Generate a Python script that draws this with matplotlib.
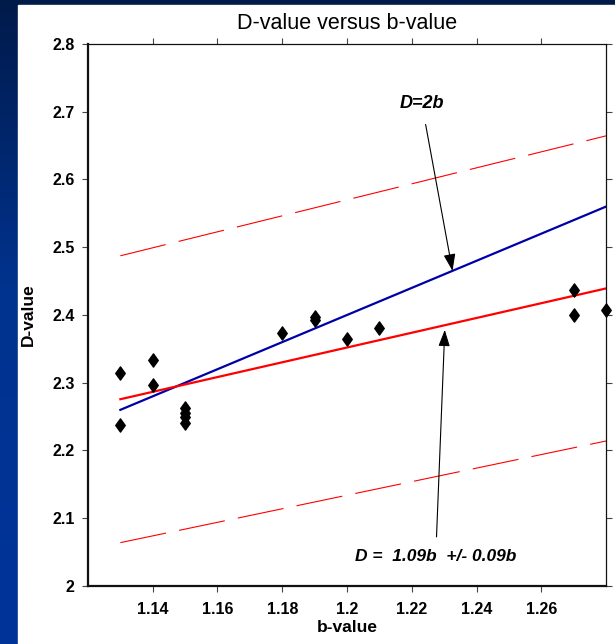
# D-value against b-value with the D=2b line and the fitted band
import matplotlib.pyplot as plt
import numpy as np
from matplotlib.colors import LinearSegmentedColormap
from matplotlib.patches import Rectangle
from matplotlib.path import Path

b_values = [1.13, 1.13, 1.14, 1.14, 1.15, 1.15, 1.15, 1.15,
            1.18, 1.19, 1.19, 1.20, 1.21, 1.27, 1.27, 1.28]
d_values = [2.315, 2.238, 2.334, 2.297, 2.262, 2.256, 2.250, 2.241,
            2.374, 2.397, 2.392, 2.364, 2.381, 2.437, 2.400, 2.408]

# fitted relation D = 1.09b +/- 0.09b
fit_slope = 1.09
fit_intercept = 1.044
slope_err = 0.09
intercept_err = 0.11
line_b = [1.13, 1.28]

x_ticks = [1.14, 1.16, 1.18, 1.20, 1.22, 1.24, 1.26]
x_ticklabels = ["1.14", "1.16", "1.18", "1.2", "1.22", "1.24", "1.26"]
y_ticks = [2.0, 2.1, 2.2, 2.3, 2.4, 2.5, 2.6, 2.7, 2.8]
y_ticklabels = ["2", "2.1", "2.2", "2.3", "2.4", "2.5", "2.6", "2.7", "2.8"]

plt.rcParams["font.family"] = ["Liberation Sans", "DejaVu Sans"]

fig = plt.figure(figsize=(6.15, 6.44), dpi=100)

# slide-style background: blue gradient with a white panel on top
bg = fig.add_axes([0, 0, 1, 1], zorder=-10)
bg.set_axis_off()
cmap = LinearSegmentedColormap.from_list(
    "slide", [(0, "#001a4a"), (0.45, "#00338f"), (1, "#003399")])
grad = np.linspace(0, 1, 256).reshape(-1, 1)
bg.imshow(grad, aspect="auto", cmap=cmap, extent=[0, 1, 0, 1], origin="upper")
bg.add_patch(Rectangle((18 / 615, 0), 1, 1 - 5 / 644, color="white",
                       transform=bg.transAxes))
bg.set_xlim(0, 1)
bg.set_ylim(0, 1)

ax = fig.add_axes([88 / 615, 1 - 586 / 644, 518 / 615, 542 / 644])

b_line = np.array(line_b)
ax.plot(b_line, 2 * b_line, color="#0000a8", lw=1.6)
ax.plot(b_line, fit_slope * b_line + fit_intercept, color="#ff0000", lw=1.6)
ax.plot(b_line, (fit_slope + slope_err) * b_line + fit_intercept + intercept_err,
        color="#ff0000", lw=0.8, dashes=(42, 12))
ax.plot(b_line, (fit_slope - slope_err) * b_line + fit_intercept - intercept_err,
        color="#ff0000", lw=0.8, dashes=(42, 12))

# squat diamond marker, a bit wider than matplotlib's thin diamond
diamond = Path([(0, 1), (0.72, 0), (0, -1), (-0.72, 0), (0, 1)],
               [Path.MOVETO, Path.LINETO, Path.LINETO, Path.LINETO, Path.CLOSEPOLY])
ax.plot(b_values, d_values, linestyle="none", marker=diamond, color="black",
        markersize=9.5, clip_on=False, zorder=5)

arrow = dict(arrowstyle="-|>,head_length=0.8,head_width=0.28",
             color="black", lw=0.8, shrinkA=7, shrinkB=0)
ax.annotate("D=2b", xy=(1.2326, 2.465), xytext=(1.2231, 2.712),
            ha="center", va="center", fontsize=13, fontweight="bold",
            fontstyle="italic", arrowprops=arrow)
ax.annotate("D =  1.09b  +/- 0.09b", xy=(1.2302, 2.378), xytext=(1.2274, 2.043),
            ha="center", va="center", fontsize=12.5, fontweight="bold",
            fontstyle="italic", arrowprops=arrow)

ax.set_xlim(1.12, 1.28)
ax.set_ylim(2.0, 2.8)
ax.set_xticks(x_ticks)
ax.set_xticklabels(x_ticklabels)
ax.set_yticks(y_ticks)
ax.set_yticklabels(y_ticklabels)
ax.tick_params(direction="out", length=4.5, width=0.8, color="#444444",
               top=True, right=True, labelsize=11.5)
ax.tick_params(axis="x", pad=7)
ax.tick_params(axis="y", pad=5)
for lab in ax.get_xticklabels() + ax.get_yticklabels():
    lab.set_fontweight("bold")

for side in ["left", "bottom"]:
    ax.spines[side].set_linewidth(1.6)
for side in ["top", "right"]:
    ax.spines[side].set_linewidth(0.9)
for sp in ax.spines.values():
    sp.set_color("#111111")

ax.set_title("D-value versus b-value", fontsize=15.5, pad=11)
ax.set_xlabel("b-value", fontsize=12.5, fontweight="bold", labelpad=2)
ax.set_ylabel("D-value", fontsize=12.5, fontweight="bold", labelpad=12)

fig.savefig("out.png", dpi=100)
